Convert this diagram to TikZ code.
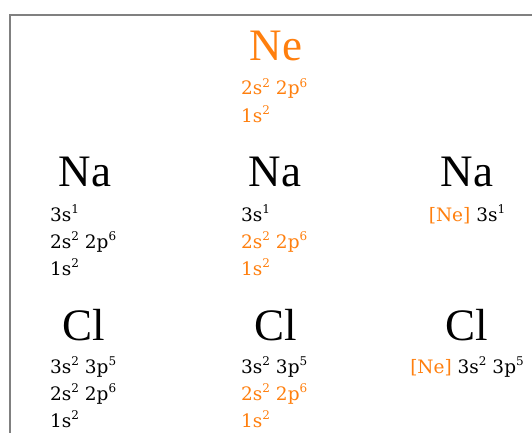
\documentclass[tikz,border=0pt]{standalone}
\usepackage{fontspec}
\setmainfont{Liberation Serif}
\newfontfamily\conffont{DejaVu Serif}
\definecolor{neorange}{HTML}{FF7F0E}
\definecolor{framegray}{HTML}{808080}
\newcommand\sups[1]{\raisebox{0.40em}{\fontsize{12}{13}\selectfont #1}}
\begin{document}
\begin{tikzpicture}[x=1pt,y=-1pt,
  elem/.style={inner sep=0pt, anchor=base, font=\fontsize{45}{50}\selectfont},
  conf/.style={inner sep=0pt, anchor=base west, font=\conffont\fontsize{18.5}{21}\selectfont},
  confc/.style={inner sep=0pt, anchor=base, font=\conffont\fontsize{18.5}{21}\selectfont},
  orng/.style={text=neorange}]
\path[use as bounding box] (0,0) rectangle (532,433);
\draw[framegray, line width=2pt] (10,440) -- (10,15) -- (540,15);
% Ne
\node[elem, orng] (ne) at (276,61) {Ne};
\node[conf, orng] (ne2) at (241,95) {2s\sups{2} 2p\sups{6}};
\node[conf, orng] (ne1) at (241,122) {1s\sups{2}};
% Na row
\node[elem] (naA) at (85,186) {Na};
\node[conf] (naA3) at (50,221) {3s\sups{1}};
\node[conf] (naA2) at (50,248) {2s\sups{2} 2p\sups{6}};
\node[conf] (naA1) at (50,275) {1s\sups{2}};
\node[elem] (naB) at (275,186) {Na};
\node[conf] (naB3) at (241,221) {3s\sups{1}};
\node[conf, orng] (naB2) at (241,248) {2s\sups{2} 2p\sups{6}};
\node[conf, orng] (naB1) at (241,275) {1s\sups{2}};
\node[elem] (naC) at (467,186) {Na};
\node[confc] (naC3) at (467,221) {\textcolor{neorange}{[Ne]} 3s\sups{1}};
% Cl row
\node[elem] (clA) at (84,340) {Cl};
\node[conf] (clA3) at (50,373) {3s\sups{2} 3p\sups{5}};
\node[conf] (clA2) at (50,400) {2s\sups{2} 2p\sups{6}};
\node[conf] (clA1) at (50,427) {1s\sups{2}};
\node[elem] (clB) at (276,340) {Cl};
\node[conf] (clB3) at (241,373) {3s\sups{2} 3p\sups{5}};
\node[conf, orng] (clB2) at (241,400) {2s\sups{2} 2p\sups{6}};
\node[conf, orng] (clB1) at (241,427) {1s\sups{2}};
\node[elem] (clC) at (467,340) {Cl};
\node[confc] (clC3) at (467,373) {\textcolor{neorange}{[Ne]} 3s\sups{2} 3p\sups{5}};
\end{tikzpicture}
\end{document}
